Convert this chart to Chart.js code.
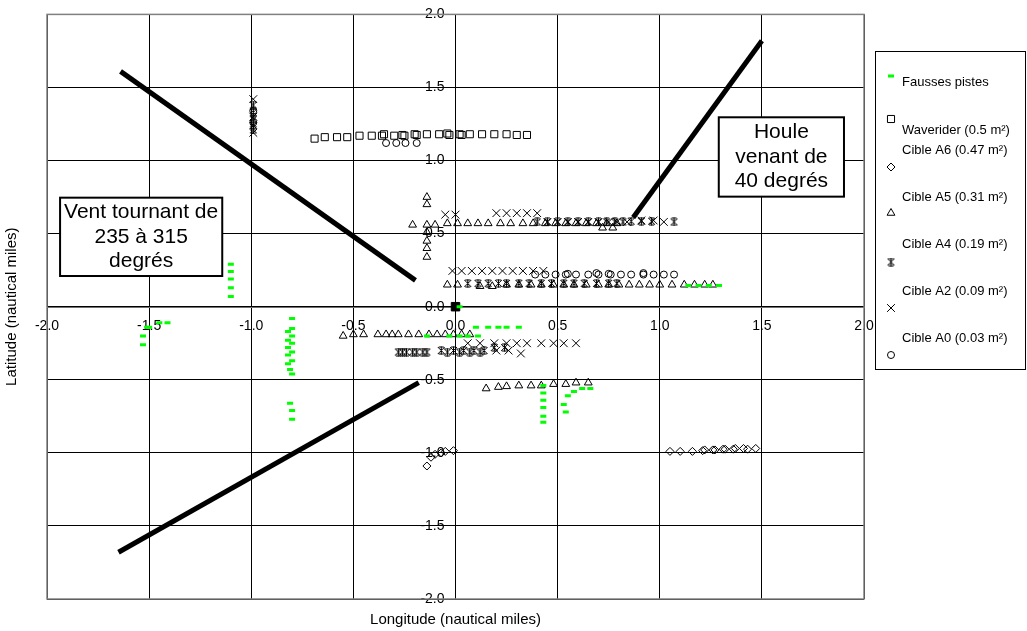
<!DOCTYPE html>
<html lang="fr">
<head>
<meta charset="UTF-8">
<title>Pistes radar</title>
<script src="https://cdn.jsdelivr.net/npm/chart.js"></script>
<style>
  html, body { margin: 0; padding: 0; background: #fff; }
  #cadre { width: 1027px; height: 631px; }
</style>
</head>
<body>
<div id="cadre"><canvas id="graphe" width="1027" height="631"></canvas></div>

<script>
// valeurs (milles nautiques)
const graduations = [-2, -1.5, -1, -0.5, 0, 0.5, 1, 1.5, 2];

const nomsSeries = ['Fausses pistes', 'Waverider (0.5 m²)', 'Cible A6 (0.47 m²)', 'Cible A5 (0.31 m²)',
                    'Cible A4 (0.19 m²)', 'Cible A2 (0.09 m²)', 'Cible A0 (0.03 m²)'];

const faussesX = [-1.41, -1.45, -1.50, -1.51, -1.53, -1.53,
                  -1.10, -1.10, -1.10, -1.10, -1.10,
                  -0.80, -0.80, -0.82, -0.80, -0.82, -0.80, -0.82, -0.80, -0.82, -0.80, -0.82, -0.81, -0.80, -0.81, -0.80, -0.80,
                  0.02, 0.10, 0.16, 0.21, 0.25, 0.31, -0.14, -0.03, 0.02, 0.06, 0.11,
                  0.43, 0.43, 0.43, 0.43, 0.43, 0.43,
                  0.53, 0.54, 0.55, 0.58, 0.62, 0.66,
                  1.14, 1.19, 1.24, 1.29];
const faussesY = [-0.11, -0.11, -0.14, -0.14, -0.20, -0.26,
                  0.29, 0.24, 0.19, 0.13, 0.07,
                  -0.08, -0.15, -0.17, -0.20, -0.23, -0.25, -0.28, -0.31, -0.33, -0.37, -0.39, -0.43, -0.46, -0.66, -0.71, -0.77,
                  0.00, -0.14, -0.14, -0.14, -0.14, -0.14, -0.20, -0.20, -0.20, -0.20, -0.20,
                  -0.54, -0.59, -0.64, -0.69, -0.75, -0.79,
                  -0.67, -0.72, -0.61, -0.58, -0.56, -0.56,
                  0.145, 0.145, 0.145, 0.145];

const waveriderX = [-0.69, -0.64, -0.58, -0.53, -0.47, -0.41, -0.36, -0.35, -0.30, -0.26, -0.25, -0.20, -0.19,
                    -0.14, -0.08, -0.04, -0.03, 0.02, 0.03, 0.07, 0.13, 0.19, 0.25, 0.30, 0.35];
const waveriderY = [1.15, 1.16, 1.16, 1.16, 1.17, 1.17, 1.17, 1.18, 1.17, 1.175, 1.17, 1.18, 1.175,
                    1.18, 1.18, 1.185, 1.175, 1.18, 1.175, 1.18, 1.18, 1.18, 1.18, 1.175, 1.175];

const cibleA6X = [-0.14, -0.12, -0.10, -0.07, -0.05, -0.01,
                  1.05, 1.10, 1.16, 1.21, 1.22, 1.26, 1.27, 1.31, 1.32, 1.36, 1.37, 1.41, 1.43, 1.47];
const cibleA6Y = [-1.09, -1.03, -1.01, -1.00, -0.99, -0.985,
                  -0.99, -0.99, -0.99, -0.985, -0.98, -0.98, -0.98, -0.975, -0.975, -0.975, -0.97, -0.97, -0.975, -0.97];

const cibleA5X = [-0.14, -0.14, -0.14, -0.14, -0.14, -0.14, -0.14, -0.21, -0.10,
                  -0.04, 0.01, 0.06, 0.11, 0.16, 0.22, 0.27, 0.33, 0.38, 0.44, 0.49, 0.54, 0.59, 0.64, 0.69, 0.72, 0.74, 0.77, 0.79,
                  -0.04, 0.01, 0.12, 0.18, 0.25, 0.31, 0.37, 0.42, 0.48, 0.53, 0.58, 0.64, 0.70, 0.75, 0.80, 0.85, 0.90, 0.95, 1.00, 1.06, 1.12, 1.17, 1.22, 1.26,
                  -0.55, -0.50, -0.45, -0.38, -0.34, -0.31, -0.28, -0.23, -0.18, -0.13, -0.09, -0.05, -0.01, 0.03, 0.07,
                  0.15, 0.21, 0.25, 0.31, 0.37, 0.42, 0.48, 0.54, 0.59, 0.65];
const cibleA5Y = [0.75, 0.70, 0.56, 0.51, 0.45, 0.40, 0.34, 0.56, 0.56,
                  0.57, 0.57, 0.57, 0.57, 0.57, 0.57, 0.57, 0.57, 0.57, 0.57, 0.57, 0.57, 0.57, 0.57, 0.57, 0.54, 0.57, 0.54, 0.57,
                  0.15, 0.15, 0.14, 0.14, 0.15, 0.15, 0.15, 0.15, 0.15, 0.15, 0.15, 0.15, 0.15, 0.15, 0.15, 0.15, 0.15, 0.15, 0.15, 0.15, 0.15, 0.15, 0.15, 0.15,
                  -0.20, -0.19, -0.19, -0.19, -0.19, -0.19, -0.19, -0.19, -0.19, -0.19, -0.19, -0.19, -0.19, -0.19, -0.19,
                  -0.56, -0.55, -0.545, -0.54, -0.54, -0.54, -0.53, -0.53, -0.52, -0.52];

const cibleA4X = [-0.99, -0.99, -0.99, -0.99, -0.99,
                  0.40, 0.45, 0.50, 0.55, 0.60, 0.65, 0.70, 0.74, 0.78, 0.82, 0.86, 0.91, 0.96, 1.07,
                  0.06, 0.11, 0.16, 0.21, 0.25, 0.31, 0.36, 0.42, 0.47, 0.53, 0.58, 0.63, 0.69, 0.75, 0.79,
                  -0.28, -0.26, -0.24, -0.21, -0.19, -0.16, -0.14, -0.07, -0.04, -0.01, 0.02, 0.04, 0.07, 0.09, 0.12, 0.14, 0.19, 0.24];
const cibleA4Y = [1.38, 1.33, 1.28, 1.24, 1.21,
                  0.58, 0.58, 0.58, 0.58, 0.58, 0.58, 0.58, 0.58, 0.58, 0.58, 0.585, 0.585, 0.585, 0.58,
                  0.16, 0.16, 0.16, 0.16, 0.16, 0.16, 0.16, 0.16, 0.16, 0.16, 0.16, 0.16, 0.16, 0.16, 0.16,
                  -0.31, -0.31, -0.31, -0.31, -0.31, -0.31, -0.31, -0.30, -0.31, -0.30, -0.31, -0.30, -0.31, -0.30, -0.31, -0.30, -0.28, -0.28];

const cibleA2X = [-0.99, -0.99, -0.99,
                  -0.05, 0.00, 0.20, 0.25, 0.30, 0.35, 0.40,
                  0.45, 0.50, 0.55, 0.60, 0.65, 0.70, 0.75, 0.79, 0.84, 0.91, 0.97, 1.02,
                  -0.015, 0.03, 0.08, 0.13, 0.18, 0.23, 0.28, 0.33, 0.38, 0.43,
                  0.06, 0.12, 0.19, 0.25, 0.30, 0.35, 0.42, 0.48, 0.53, 0.59, 0.20, 0.26, 0.32];
const cibleA2Y = [1.42, 1.30, 1.19,
                  0.63, 0.63, 0.64, 0.64, 0.64, 0.64, 0.64,
                  0.58, 0.58, 0.58, 0.58, 0.58, 0.58, 0.58, 0.58, 0.58, 0.59, 0.59, 0.58,
                  0.245, 0.245, 0.245, 0.245, 0.245, 0.245, 0.245, 0.245, 0.245, 0.245,
                  -0.25, -0.25, -0.25, -0.25, -0.25, -0.25, -0.25, -0.25, -0.25, -0.25, -0.30, -0.30, -0.32];

const cibleA0X = [-0.34, -0.29, -0.245, -0.19, -0.99, -0.99,
                  0.39, 0.44, 0.49, 0.54, 0.55, 0.59, 0.65, 0.69, 0.70, 0.75, 0.76, 0.81, 0.86, 0.92, 0.92, 0.97, 1.02, 1.07];
const cibleA0Y = [1.12, 1.12, 1.12, 1.12, 1.34, 1.26,
                  0.22, 0.22, 0.22, 0.22, 0.225, 0.22, 0.22, 0.23, 0.22, 0.225, 0.22, 0.22, 0.22, 0.22, 0.23, 0.22, 0.22, 0.22];

const radarX = [0];
const radarY = [0];

// traits épais (directions du vent et de la houle)
const trait1X = [-1.64, -0.196], trait1Y = [1.61, 0.18];
const trait2X = [-1.65, -0.18],  trait2Y = [-1.68, -0.52];
const trait3X = [0.87, 1.50],    trait3Y = [0.61, 1.82];

const paires = (xs, ys) => xs.map((x, i) => ({ x: x, y: ys[i] }));

// marqueur "étoile" d'Excel : X + barre verticale, petites barres haut et bas
function etoile() {
    const c = document.createElement('canvas');
    c.width = 9; c.height = 9;
    const g = c.getContext('2d');
    g.strokeStyle = '#000';
    g.lineWidth = 1;
    g.beginPath();
    g.moveTo(1, 1); g.lineTo(8, 8);
    g.moveTo(8, 1); g.lineTo(1, 8);
    g.moveTo(4.5, 0.5); g.lineTo(4.5, 8.5);
    g.moveTo(2, 1); g.lineTo(7, 1);
    g.moveTo(2, 8); g.lineTo(7, 8);
    g.stroke();
    return c;
}
const imgEtoile = etoile();

const vide = 'rgba(0,0,0,0)';
const police = "'Liberation Sans', Arial, sans-serif";

function serie(nom, xs, ys, style, rayon, extra) {
    return Object.assign({
        label: nom,
        data: paires(xs, ys),
        pointStyle: style,
        pointRadius: rayon,
        pointHoverRadius: rayon,
        borderColor: '#000',
        backgroundColor: vide,
        borderWidth: 1
    }, extra || {});
}

function trait(xs, ys) {
    return {
        label: '',
        data: paires(xs, ys),
        showLine: true,
        borderColor: '#000',
        borderWidth: 5,
        pointRadius: 0,
        pointHoverRadius: 0,
        fill: false,
        order: 0
    };
}

const jeux = [
    serie(nomsSeries[0], faussesX, faussesY, 'line', 3, { borderColor: '#00ff00', borderWidth: 3 }),
    serie(nomsSeries[1], waveriderX, waveriderY, 'rect', 5),
    serie(nomsSeries[2], cibleA6X, cibleA6Y, 'rectRot', 4),
    serie(nomsSeries[3], cibleA5X, cibleA5Y, 'triangle', 4.5),
    serie(nomsSeries[4], cibleA4X, cibleA4Y, imgEtoile, 5),
    serie(nomsSeries[5], cibleA2X, cibleA2Y, 'crossRot', 5.5),
    serie(nomsSeries[6], cibleA0X, cibleA0Y, 'circle', 3.5),
    serie('', radarX, radarY, 'rect', 6, { backgroundColor: '#000' }),
    trait(trait1X, trait1Y),
    trait(trait2X, trait2Y),
    trait(trait3X, trait3Y)
];

// cadres de texte
const cadres = [
    { lignes: ['Vent tournant de', '235 à 315', 'degrés'], x0: -1.936, x1: -1.142, y0: 0.746, y1: 0.21 },
    { lignes: ['Houle', 'venant de', '40 degrés'], x0: 1.289, x1: 1.902, y0: 1.296, y1: 0.753 }
];

const pluginCadres = {
    id: 'cadres',
    afterDatasetsDraw(chart) {
        const ctx = chart.ctx, sx = chart.scales.x, sy = chart.scales.y;
        ctx.save();
        cadres.forEach(c => {
            const l = sx.getPixelForValue(c.x0), r = sx.getPixelForValue(c.x1);
            const t = sy.getPixelForValue(c.y0), b = sy.getPixelForValue(c.y1);
            ctx.fillStyle = '#fff';
            ctx.fillRect(l, t, r - l, b - t);
            ctx.strokeStyle = '#000';
            ctx.lineWidth = 2;
            ctx.strokeRect(l, t, r - l, b - t);
            ctx.fillStyle = '#000';
            ctx.font = '21px ' + police;
            ctx.textAlign = 'center';
            ctx.textBaseline = 'middle';
            const pas = 24.5;
            const milieu = (t + b) / 2;
            c.lignes.forEach((txt, i) => {
                ctx.fillText(txt, (l + r) / 2, milieu + (i - (c.lignes.length - 1) / 2) * pas);
            });
        });
        ctx.restore();
    }
};

// bordure de la zone de tracé, titres d'axes et légende encadrée
const pluginHabillage = {
    id: 'habillage',
    afterDraw(chart) {
        const ctx = chart.ctx, a = chart.chartArea;
        ctx.save();
        ctx.strokeStyle = '#808080';
        ctx.lineWidth = 1.5;
        ctx.strokeRect(a.left, a.top, a.right - a.left, a.bottom - a.top);

        ctx.fillStyle = '#000';
        ctx.font = '15px ' + police;
        ctx.textAlign = 'center';
        ctx.textBaseline = 'middle';
        ctx.fillText('Longitude (nautical miles)', (a.left + a.right) / 2, 620);
        ctx.translate(12, (a.top + a.bottom) / 2);
        ctx.rotate(-Math.PI / 2);
        ctx.fillText('Latitude (nautical miles)', 0, 0);
        ctx.setTransform(1, 0, 0, 1, 0, 0);

        // légende
        ctx.strokeStyle = '#000';
        ctx.lineWidth = 1;
        ctx.strokeRect(875.5, 51.5, 150, 318);
        const pos = [[76, 82], [119, 130], [167, 150], [213, 197], [262, 244], [308, 291], [355, 338]];
        ctx.font = '13px ' + police;
        ctx.textAlign = 'left';
        pos.forEach((p, i) => {
            const ds = chart.data.datasets[i];
            ctx.save();
            ctx.strokeStyle = ds.borderColor;
            ctx.fillStyle = ds.backgroundColor;
            ctx.lineWidth = ds.borderWidth;
            Chart.helpers.drawPoint(ctx, {
                pointStyle: ds.pointStyle,
                radius: ds.pointRadius,
                borderWidth: ds.borderWidth,
                rotation: 0
            }, 891, p[0]);
            ctx.restore();
            ctx.fillStyle = '#000';
            ctx.fillText(ds.label, 902, p[1]);
        });
        ctx.restore();
    }
};

const axe = (couleurAxe) => ({
    type: 'linear',
    min: -2,
    max: 2,
    position: 'center',
    afterBuildTicks: s => { s.ticks = graduations.map(v => ({ value: v })); },
    ticks: {
        color: '#000',
        font: { family: police, size: 14 },
        callback: v => v.toFixed(1),
        autoSkip: false,
        maxRotation: 0,
        padding: 6
    },
    grid: {
        color: '#000',
        lineWidth: 1,
        tickLength: 5,
        drawTicks: true
    },
    border: { display: true, color: couleurAxe, width: 1 }
});

Chart.defaults.font.family = police;

new Chart(document.getElementById('graphe'), {
    type: 'scatter',
    data: { datasets: jeux },
    options: {
        responsive: false,
        animation: false,
        devicePixelRatio: 1,
        layout: { padding: { left: 47, right: 163, top: 8, bottom: 32 } },
        plugins: {
            legend: { display: false },
            tooltip: { enabled: false }
        },
        scales: {
            x: axe('#707070'),
            y: axe('#000')
        }
    },
    plugins: [pluginCadres, pluginHabillage]
});
</script>
</body>
</html>
